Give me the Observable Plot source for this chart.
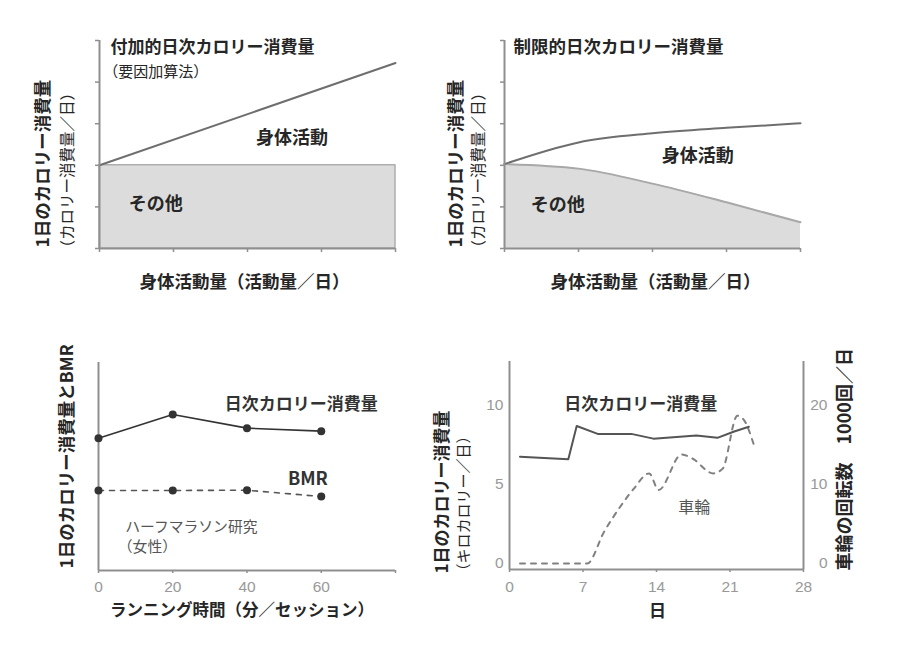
<!DOCTYPE html>
<html>
<head>
<meta charset="utf-8">
<script src="https://cdn.jsdelivr.net/npm/d3@7"></script>
<script src="https://cdn.jsdelivr.net/npm/@observablehq/plot@0.6"></script>
<style>
  body { margin: 0; background: #fff; }
  #wrap { position: relative; width: 906px; height: 645px; overflow: hidden; background: #fff; }
  #wrap > svg { position: absolute; overflow: visible; }
</style>
</head>
<body>
<div id="wrap"></div>
<script>
// ---------- data ----------
// Panels A/B (conceptual, unitless)
const activityLevels = [0, 1, 2, 3, 4];
const conceptTicks = [0, 1, 2, 3, 4, 5];
const additiveX = [0, 4];
const additiveTotal = [2.0, 4.46];
const additiveOther = [2.0, 2.0];
const constrainedTotal = [2.03, 2.55, 2.77, 2.9, 3.01];
const constrainedOther = [2.03, 1.92, 1.56, 1.11, 0.63];

// Panel C (half-marathon study, women)
const runMinutes = [0, 20, 40, 60];
const runTEE = [1908, 2250, 2053, 2010];
const runBMR = [1154, 1154, 1158, 1067];
const runTicks = [0, 20, 40, 60, 80];
const runTickLabels = ["0", "20", "40", "60", ""];

// Panel D (mice, running wheel)
const teeDays = [1, 5.6, 6.4, 8.4, 11.6, 13.7, 17.8, 19.8, 21.4, 22.8];
const teeKcal = [6.75, 6.6, 8.7, 8.2, 8.2, 7.9, 8.1, 7.95, 8.35, 8.65];
const wheelDays = [1, 7.4, 9, 10.4, 11.8, 13.3, 14.2, 16.4, 17.4, 19.4, 20.3, 21.7, 22.3, 23.3];
const wheelRevs = [0, 0, 4, 6.9, 9.4, 11.4, 9.3, 13.8, 13.3, 11.4, 12, 18.7, 18.2, 14.9];
const dayTicks = [0, 7, 14, 21, 28];
const kcalTicks = [0, 5, 10];
const revTicks = [0, 10, 20];

// ---------- styling ----------
const AX = "#8f8f8f";
const TICKTXT = "#999";
const JP = "'Noto Sans CJK JP', 'Noto Sans', sans-serif";
const NUM = "'Liberation Sans', Arial, sans-serif";
const wrap = document.getElementById("wrap");
function place(svg, left, top) {
  svg.style.left = left + "px";
  svg.style.top = top + "px";
  wrap.appendChild(svg);
}
const baseStyle = {fontFamily: JP, background: "transparent", color: "#262626", fontSize: "16px"};

// ---------- Panel A ----------
const A = additiveX.map((x, i) => ({x, total: additiveTotal[i], other: additiveOther[i]}));
const ADom = [activityLevels[0], activityLevels[activityLevels.length - 1]];
const YDomAB = [conceptTicks[0], conceptTicks[conceptTicks.length - 1]];
place(Plot.plot({
  width: 450, height: 320,
  marginLeft: 99, marginRight: 55, marginTop: 40, marginBottom: 72,
  x: {domain: ADom}, y: {domain: YDomAB},
  style: baseStyle,
  marks: [
    Plot.areaY(A, {x: "x", y: "other", fill: "#dcdcdc", stroke: "#adadad", strokeWidth: 1.5}),
    Plot.line(A, {x: "x", y: "total", stroke: "#6e6e6e", strokeWidth: 2}),
    Plot.ruleX([ADom[0]], {stroke: AX, strokeWidth: 2}),
    Plot.ruleY([YDomAB[0]], {stroke: AX, strokeWidth: 2}),
    Plot.axisX({ticks: activityLevels, tickSize: 4, tickFormat: () => "", stroke: AX, strokeWidth: 1.5, label: null}),
    Plot.axisY({ticks: conceptTicks, tickSize: 4, tickFormat: () => "", stroke: AX, strokeWidth: 1.5, label: null}),
    Plot.text(["付加的日次カロリー消費量"], {x: 0.15, y: 4.83, textAnchor: "start", fontSize: 17, fontWeight: 700}),
    Plot.text(["（要因加算法）"], {x: 0.05, y: 4.25, textAnchor: "start", fontSize: 15}),
    Plot.text(["身体活動"], {x: 2.6, y: 2.64, fontSize: 18, fontWeight: 700}),
    Plot.text(["その他"], {x: 0.76, y: 1.06, fontSize: 18, fontWeight: 700}),
    Plot.text(["1日のカロリー消費量"], {frameAnchor: "bottom-left", rotate: -90, textAnchor: "start", dx: -51, dy: -1, fontSize: 17.5, fontWeight: 700}),
    Plot.text(["（カロリー消費量／日）"], {frameAnchor: "bottom-left", rotate: -90, textAnchor: "start", dx: -27, dy: 7, fontSize: 15.5}),
    Plot.text(["身体活動量（活動量／日）"], {frameAnchor: "bottom", dx: -3, dy: 39, fontSize: 17.5, fontWeight: 700})
  ]
}), 0, 0);

// ---------- Panel B ----------
const B = activityLevels.map((x, i) => ({x, total: constrainedTotal[i], other: constrainedOther[i]}));
place(Plot.plot({
  width: 456, height: 320,
  marginLeft: 54, marginRight: 106, marginTop: 40, marginBottom: 72,
  x: {domain: ADom}, y: {domain: YDomAB},
  style: baseStyle,
  marks: [
    Plot.areaY(B, {x: "x", y: "other", curve: "monotone-x", fill: "#dcdcdc"}),
    Plot.line(B, {x: "x", y: "other", curve: "monotone-x", stroke: "#a8a8a8", strokeWidth: 2}),
    Plot.line(B, {x: "x", y: "total", curve: "monotone-x", stroke: "#6e6e6e", strokeWidth: 2}),
    Plot.ruleX([ADom[0]], {stroke: AX, strokeWidth: 2}),
    Plot.ruleY([YDomAB[0]], {stroke: AX, strokeWidth: 2}),
    Plot.axisX({ticks: activityLevels, tickSize: 4, tickFormat: () => "", stroke: AX, strokeWidth: 1.5, label: null}),
    Plot.axisY({ticks: conceptTicks, tickSize: 4, tickFormat: () => "", stroke: AX, strokeWidth: 1.5, label: null}),
    Plot.text(["制限的日次カロリー消費量"], {x: 0.12, y: 4.83, textAnchor: "start", fontSize: 17.5, fontWeight: 700}),
    Plot.text(["身体活動"], {x: 2.61, y: 2.21, fontSize: 18, fontWeight: 700}),
    Plot.text(["その他"], {x: 0.72, y: 1.03, fontSize: 18, fontWeight: 700}),
    Plot.text(["1日のカロリー消費量"], {frameAnchor: "bottom-left", rotate: -90, textAnchor: "start", dx: -43, dy: -1, fontSize: 17.5, fontWeight: 700}),
    Plot.text(["（カロリー消費量／日）"], {frameAnchor: "bottom-left", rotate: -90, textAnchor: "start", dx: -21, dy: 7, fontSize: 15.5}),
    Plot.text(["身体活動量（活動量／日）"], {frameAnchor: "bottom", dx: 3, dy: 39, fontSize: 17.5, fontWeight: 700})
  ]
}), 450, 0);

// ---------- Panel C ----------
const C = runMinutes.map((m, i) => ({m, tee: runTEE[i], bmr: runBMR[i]}));
const CxDom = [runTicks[0], runTicks[runTicks.length - 1]];
const CyDom = [0, 3000];
place(Plot.plot({
  width: 450, height: 325,
  marginLeft: 98, marginRight: 55, marginTop: 42, marginBottom: 75,
  x: {domain: CxDom}, y: {domain: CyDom, axis: null},
  style: baseStyle,
  marks: [
    Plot.ruleX([CxDom[0]], {stroke: AX, strokeWidth: 2}),
    Plot.ruleY([CyDom[0]], {stroke: AX, strokeWidth: 2}),
    Plot.axisX({ticks: runTicks, tickSize: 3, tickPadding: 7, tickFormat: (d, i) => runTickLabels[i], stroke: AX, strokeWidth: 1.5, fill: TICKTXT, fontFamily: NUM, fontSize: 15.5, label: null}),
    Plot.line(C, {x: "m", y: "tee", stroke: "#333", strokeWidth: 1.6}),
    Plot.line(C, {x: "m", y: "bmr", stroke: "#555", strokeWidth: 1.6, strokeDasharray: "5,6"}),
    Plot.dot(C, {x: "m", y: "tee", r: 4, fill: "#333"}),
    Plot.dot(C, {x: "m", y: "bmr", r: 4, fill: "#333"}),
    Plot.text(["日次カロリー消費量"], {x: 54.6, y: 2394, fontSize: 17, fontWeight: 700, fill: "#333"}),
    Plot.text(["BMR"], {x: 56.4, y: 1312, fontSize: 18, fontWeight: 700, fill: "#333"}),
    Plot.text(["ハーフマラソン研究"], {x: 7.2, y: 620, textAnchor: "start", fontSize: 14.8, fill: "#555"}),
    Plot.text(["（女性）"], {x: 5.2, y: 332, textAnchor: "start", fontSize: 14.8, fill: "#555"}),
    Plot.text(["1日のカロリー消費量とBMR"], {frameAnchor: "bottom-left", rotate: -90, textAnchor: "start", dx: -26, dy: -2, fontSize: 17.5, fontWeight: 700}),
    Plot.text(["ランニング時間（分／セッション）"], {frameAnchor: "bottom", dx: -5, dy: 45, fontSize: 16.5, fontWeight: 700})
  ]
}), 0, 320);

// ---------- Panel D ----------
const revPerKcal = revTicks[revTicks.length - 1] / kcalTicks[kcalTicks.length - 1];
const D1 = teeDays.map((d, i) => ({d, v: teeKcal[i]}));
const D2 = wheelDays.map((d, i) => ({d, v: wheelRevs[i] / revPerKcal}));
const DxDom = [dayTicks[0], dayTicks[dayTicks.length - 1]];
const DyDom = [-0.38, 12.78];
place(Plot.plot({
  width: 456, height: 325,
  marginLeft: 59, marginRight: 103, marginTop: 41, marginBottom: 76,
  x: {domain: DxDom}, y: {domain: DyDom},
  style: baseStyle,
  marks: [
    Plot.ruleX([DxDom[0], DxDom[1]], {stroke: AX, strokeWidth: 2}),
    Plot.ruleY([DyDom[0]], {stroke: AX, strokeWidth: 2}),
    Plot.axisX({ticks: dayTicks, tickSize: 3, tickPadding: 8, stroke: AX, strokeWidth: 1.5, fill: TICKTXT, fontFamily: NUM, fontSize: 15.5, label: null}),
    Plot.axisY({ticks: kcalTicks, anchor: "left", tickSize: 0, tickPadding: 6, fill: TICKTXT, fontFamily: NUM, fontSize: 15.5, label: null}),
    Plot.axisY({ticks: kcalTicks, anchor: "right", tickSize: 0, tickPadding: 24, textAnchor: "end", tickFormat: d => d * revPerKcal, fill: TICKTXT, fontFamily: NUM, fontSize: 15.5, label: null}),
    Plot.line(D2, {x: "d", y: "v", curve: "monotone-x", stroke: "#808080", strokeWidth: 2, strokeDasharray: "5,6"}),
    Plot.line(D1, {x: "d", y: "v", stroke: "#555", strokeWidth: 2}),
    Plot.text(["日次カロリー消費量"], {x: 12.5, y: 10.06, fontSize: 17, fontWeight: 700, fill: "#333"}),
    Plot.text(["車輪"], {x: 17.6, y: 3.54, fontSize: 16, fill: "#555"}),
    Plot.text(["1日のカロリー消費量"], {frameAnchor: "bottom-left", rotate: -90, textAnchor: "start", dx: -62, dy: 4, fontSize: 17, fontWeight: 700}),
    Plot.text(["（キロカロリー／日）"], {frameAnchor: "bottom-left", rotate: -90, textAnchor: "start", dx: -41, dy: 9, fontSize: 15}),
    Plot.text(["車輪の回転数　1000回／日"], {frameAnchor: "bottom-right", rotate: -90, textAnchor: "start", dx: 47, dy: 1, fontSize: 18, fontWeight: 700}),
    Plot.text(["日"], {frameAnchor: "bottom", dx: 1, dy: 47, fontSize: 17, fontWeight: 700})
  ]
}), 450, 320);
</script>
</body>
</html>
